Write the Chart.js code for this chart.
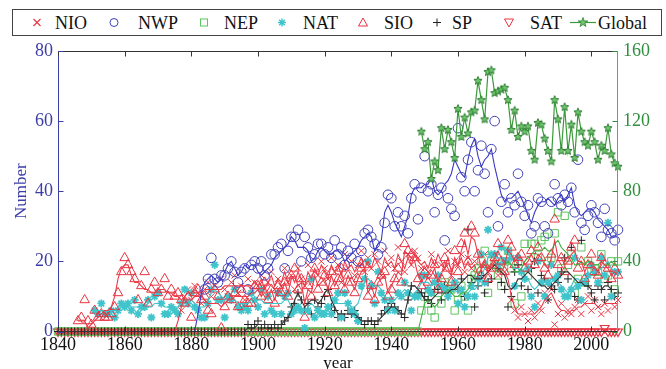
<!DOCTYPE html>
<html><head><meta charset="utf-8">
<script src="https://cdn.jsdelivr.net/npm/chart.js@4"></script>
<style>
html,body{margin:0;padding:0;background:#fff;overflow:hidden;}
#wrap{position:relative;width:666px;height:369px;overflow:hidden;}
canvas{position:absolute;left:0;top:0;}
#legend{position:absolute;left:12px;top:9px;width:650px;height:27px;border:1px solid #444;box-sizing:border-box;background:#fff;font-family:"Liberation Serif","Times New Roman",serif;font-size:18px;color:#111;}
.lt{position:absolute;top:3px;line-height:20px;white-space:nowrap;}
.lm{position:absolute;top:0;}
</style></head>
<body><div id="wrap"><canvas id="c" width="666" height="375"></canvas><div id="legend"></div></div>
<script>
// ---------- DATA (yearly counts) ----------
const X_TICKS = [1840,1860,1880,1900,1920,1940,1960,1980,2000];
const Y_TICKS = [0,20,40,60,80];
const Y2_TICKS = [0,40,80,120,160];

const NIO_START = 1840;
const NIO_MARK = [
0,0,0,0,0,0,0,0,0,0,
0,0,0,0,0,0,0,0,0,0,
0,0,0,0,0,0,0,0,0,0,
0,0,0,0,0,0,0,6,10,12,
9,13,11,8,12,14,10,13,9,15,
12,10,14,16,11,13,9,15,12,14,
13,16,11,14,17,12,15,13,18,14,
16,12,18,15,13,19,14,17,16,20,
18,15,21,17,19,14,22,18,20,16,
19,23,17,21,18,22,20,16,23,19,
21,18,24,20,17,22,19,23,21,18,
18,17,22,19,15,19,18,23,16,20,
19,22,17,21,18,20,15,19,22,17,
18,21,16,19,17,20,9,6,4,7,
5,3,6,4,8,6,11,9,12,2,
5,8,4,6,5,7,9,5,8,10,
6,9,7,5,8,6,10,7,9];
const NIO_LINE = [
0,0,0,0,0,0,0,0,0,0,
0,0,0,0,0,0,0,0,0,0,
0,0,0,0,0,0,0,0,0,0,
0,0,0,0,0,0,3,7,10,11,
11,11,11,11,12,12,12,12,12,12,
13,13,13,13,13,13,13,13,13,14,
13,15,12,14,16,13,15,14,17,14,
16,14,17,15,13,17,15,18,16,19,
17,15,19,17,19,16,20,18,19,17,
19,21,18,20,18,21,19,17,21,19,
20,18,22,20,18,21,19,22,20,19,
20,18,21,19,22,20,18,21,17,19,
19,21,18,20,18,19,16,18,20,18,
18,20,17,18,17,15,10,7,5,5,
5,5,5,5,6,7,9,10,11,9,
7,6,6,5,6,6,7,7,8,8,
8,8,7,7,8,8,8,8,8];

const NWP_MARK_START = 1884;
const NWP_MARK = [
12,15,21,15,14,16,
16,18,20,17,14,17,18,12,19,20,
18,20,16,18,22,22,24,25,18,23,
27,27,29,20,27,24,21,22,25,25,
22,24,21,26,22,24,19,23,21,25,
20,23,28,29,27,25,22,24,31,39,
38,30,34,30,33,28,38,42,32,41,
50,40,42,34,39,41,26,38,35,33,
58,44,40,49,54,40,46,53,45,34,
52,60,30,37,42,34,38,36,45,37,
33,36,28,30,38,37,30,28,37,42,
38,36,39,37,41,34,49,31,29,33,
36,34,31,27,35,29,28,26,29];
const NWP_LINE_START = 1840;
const NWP_LINE = [
0,0,0,0,0,0,0,0,0,0,
0,0,0,0,0,0,0,0,0,0,
0,0,0,0,0,0,0,0,0,0,
0,0,0,0,0,0,0,0,0,0,
0,0,5,11,14,15,16,15,14,15,
17,19,20,18,16,17,19,18,19,19,
17,16,17,18,19,21,22,23,24,25,
27,26,24,24,24,23,20,21,23,24,
23,22,22,23,23,22,20,21,22,23,
24,26,27,28,27,23,25,26,34,36,
34,31,29,27,30,33,39,41,41,41,
42,42,44,40,39,40,42,43,45,49,
47,45,44,49,53,55,50,47,49,50,
52,47,43,39,37,38,38,39,40,38,
36,33,31,34,36,37,37,38,37,36,
38,39,37,39,41,36,34,33,34,35,
35,34,32,31,30,29,27,27,27];

const NEP_START = 1840;
const NEP_MARK = [
0,0,0,0,0,0,0,0,0,0,
0,0,0,0,0,0,0,0,0,0,
0,0,0,0,0,0,0,0,0,0,
0,0,0,0,0,0,0,0,0,0,
0,0,0,0,0,0,0,0,0,0,
0,0,0,0,0,0,0,0,0,0,
0,0,0,0,0,0,0,0,0,0,
0,0,0,0,0,0,0,0,0,0,
0,0,0,0,0,0,0,0,0,0,
0,0,0,0,0,0,0,0,0,0,
0,0,0,0,0,0,0,0,0,6,
10,8,6,4,11,8,14,13,12,6,
9,13,10,6,15,16,18,20,23,11,
20,19,16,13,20,23,18,8,20,10,
25,16,25,25,21,26,27,20,21,28,
34,18,33,19,22,11,15,24,14,20,
17,18,17,22,15,16,20,12,20];
const NEP_LINE = [
0,0,0,0,0,0,0,0,0,0,
0,0,0,0,0,0,0,0,0,0,
0,0,0,0,0,0,0,0,0,0,
0,0,0,0,0,0,0,0,0,0,
0,0,0,0,0,0,0,0,0,0,
0,0,0,0,0,0,0,0,0,0,
0,0,0,0,0,0,0,0,0,0,
0,0,0,0,0,0,0,0,0,0,
0,0,0,0,0,0,0,0,0,0,
0,0,0,0,0,0,0,0,0,0,
0,0,0,0,0,0,0,0,0,4,
8,9,8,7,8,10,11,12,11,10,
10,11,11,12,14,16,18,19,19,18,
18,18,17,17,19,20,19,17,17,18,
20,21,22,23,23,23,24,23,23,25,
26,24,23,22,21,19,19,20,19,20,
20,19,19,20,19,19,20,19,19];

const NAT_START = 1851;
const NAT_MARK = [
6,5,8,5,5,6,4,6,8,
7,8,6,9,5,7,7,9,4,10,
11,8,5,5,7,6,5,8,12,8,
11,7,6,4,4,8,12,19,9,9,
4,10,9,12,7,6,7,6,11,9,
7,12,5,10,6,5,11,5,10,11,
5,6,7,6,1,6,15,4,6,5,
5,7,5,9,11,4,11,8,6,5,
3,13,15,20,13,8,17,11,9,6,
9,6,11,10,14,11,6,10,10,16,
16,12,11,14,16,13,12,10,12,14,
8,12,7,10,13,10,15,22,14,29,
22,22,19,24,20,23,21,13,21,17,
15,18,10,7,20,14,10,14,19,15,
16,12,10,10,12,21,13,9,14,16,
19,17,14,21,16,31,10,17,17];
const NAT_LINE = [
5,6,6,6,6,6,6,7,7,
7,7,7,7,7,7,7,7,7,8,
8,8,7,7,7,7,7,8,9,9,
9,8,7,7,7,9,11,12,11,10,
9,9,9,9,8,8,8,8,9,9,
9,9,8,8,8,8,8,8,9,9,
7,6,6,5,5,7,8,7,6,6,
6,6,7,8,8,8,8,8,7,7,
8,11,14,15,14,13,13,12,10,9,
9,9,10,11,12,11,10,11,12,14,
14,14,13,14,14,13,12,12,12,12,
11,11,10,11,12,12,13,16,18,21,
22,21,21,21,21,21,19,18,18,17,
16,15,13,12,13,14,14,14,15,15,
14,13,12,11,13,15,15,14,14,16,
17,17,17,18,19,20,18,17,17];

const SIO_START = 1846;
const SIO_MARK = [
3,4,9,3,
2,6,4,5,4,4,5,7,11,17,
21,19,17,15,9,13,17,8,12,14,
11,12,15,10,12,10,11,9,8,10,
4,11,12,9,10,6,5,12,10,1,
7,10,9,11,7,12,9,8,8,13,
13,10,14,9,12,8,13,11,14,10,
16,18,12,15,4,13,10,18,12,14,
16,11,17,13,15,18,12,16,14,11,
15,18,19,10,13,9,14,16,17,10,
12,15,18,14,25,23,22,21,15,13,
17,14,16,19,12,15,21,18,14,23,
17,25,28,20,30,28,22,16,19,15,
18,21,25,20,17,26,24,19,21,22,
18,20,23,19,24,21,18,16,22,32,
19,21,17,20,24,26,18,20,15,19,
22,17,16,21,19,18,15,18,16];
const SIO_LINE = [
3,3,3,1,
2,3,4,5,6,6,7,10,15,18,
19,19,16,14,14,13,12,12,11,11,
12,12,12,11,11,10,10,9,9,9,
9,10,10,10,9,8,8,8,8,7,
8,9,9,10,10,10,10,10,11,11,
12,10,13,10,12,9,12,11,14,11,
15,16,13,14,8,12,11,16,13,14,
15,12,16,13,15,17,13,16,14,12,
15,17,18,11,13,10,14,15,16,11,
13,15,17,16,23,22,21,20,16,14,
16,15,16,18,14,16,20,18,16,21,
19,23,26,22,27,26,22,18,19,17,
19,21,23,21,19,23,22,20,21,21,
19,20,22,20,22,21,19,18,21,26,
21,21,19,20,22,23,20,20,17,19,
20,18,17,20,19,18,16,17,16];

const SP_START = 1840;
const SP_MARK = [
0,0,0,0,0,0,0,0,0,0,
0,0,0,0,0,0,0,0,0,0,
0,0,0,0,0,0,0,0,0,0,
0,0,0,0,0,0,0,0,0,0,
0,0,0,0,0,0,0,0,0,0,
0,0,0,0,0,0,0,2,1,2,
3,1,2,1,1,2,1,2,3,4,
7,8,11,9,6,8,5,9,7,8,
10,12,7,6,4,5,4,6,5,6,
4,3,2,3,3,2,3,5,6,7,
8,7,6,5,4,9,13,10,11,11,
10,9,8,12,12,9,13,10,12,14,
12,15,10,29,14,7,13,16,11,14,
15,22,18,14,12,7,10,17,19,13,
15,12,18,20,11,16,15,9,13,12,
14,17,21,15,24,10,9,26,14,13,
11,9,13,12,9,14,12,10,11];
const SP_LINE = [
0,0,0,0,0,0,0,0,0,0,
0,0,0,0,0,0,0,0,0,0,
0,0,0,0,0,0,0,0,0,0,
0,0,0,0,0,0,0,0,0,0,
0,0,0,0,0,0,0,0,0,0,
0,0,0,0,0,0,0,1,1,1,
2,2,2,2,2,2,2,2,3,4,
6,9,11,9,7,8,9,9,8,9,
11,12,9,7,5,5,5,5,5,5,
4,3,3,3,3,3,3,4,5,6,
7,7,6,5,5,9,13,13,12,11,
9,9,9,10,11,11,11,11,12,12,
13,14,15,16,16,15,15,15,16,17,
18,19,18,17,16,13,12,13,15,15,
16,17,16,15,14,13,13,12,13,14,
15,16,17,17,16,15,14,14,13,13,
12,12,12,12,13,13,12,12,12];

const SAT_START = 1840;
const SAT_MARK = [
0,0,0,0,0,0,0,0,0,0,
0,0,0,0,0,0,0,0,0,0,
0,0,0,0,0,0,0,0,0,0,
0,0,0,0,0,0,0,0,0,0,
0,0,0,0,0,0,0,0,0,0,
0,0,0,0,0,0,0,0,0,0,
0,0,0,0,0,0,0,0,0,0,
0,0,0,0,0,0,0,0,0,0,
0,0,0,0,0,0,0,0,0,0,
0,0,0,0,0,0,0,0,0,0,
0,0,0,0,0,0,0,0,0,0,
0,0,0,0,0,0,0,0,0,0,
0,0,0,0,0,0,0,0,0,0,
0,0,0,0,0,0,0,0,0,0,
0,0,0,0,0,0,0,0,0,0,
0,0,0,0,0,0,0,0,0,0,
0,0,0,0,1,0,0,0,0];

const GLOBAL_START = 1949;
const GLOBAL = [
114,
104,108,87,97,92,116,104,115,108,99,
127,111,122,113,125,126,143,132,121,148,
149,136,137,138,139,132,115,126,111,117,
114,117,103,98,119,118,110,103,97,132,
121,103,128,103,118,99,125,114,108,106,
114,108,98,106,103,116,101,96,94];

// ---------- STYLE ----------
const FONT = '"Liberation Serif","Times New Roman",serif';
const RED = '#e63340', RED_LINE = '#ec3a48';
const BLUE = '#4040b8', BLUE_AX = '#3d3da8';
const NEPG = '#5ec45e', NEPG_LINE = '#44b044';
const CYAN = '#3fc4cb';
const BLACK = '#1e1e1e';
const GLG = '#3c9a3c', GL_AX = '#2f8f3f';

function pts(start, arr){ return arr.map((v,i)=>({x:start+i, y:v})); }

function makeStar(r, fill, stroke){
  const s = Math.ceil(r*2+3); const c = document.createElement('canvas'); c.width=c.height=s;
  const g=c.getContext('2d'); g.translate(s/2,s/2); g.beginPath();
  for(let i=0;i<10;i++){ const a=-Math.PI/2+i*Math.PI/5; const rr=(i%2)?r*0.45:r; g.lineTo(rr*Math.cos(a),rr*Math.sin(a)); }
  g.closePath(); g.fillStyle=fill; g.fill(); g.strokeStyle=stroke; g.lineWidth=1; g.stroke(); return c;
}
const starImg = makeStar(4.3, '#6cc46c', '#2e7d32');

function markers(label, data, style, color, r, order, extra){
  return Object.assign({label, data, showLine:false, pointStyle:style, pointRadius:r, pointHoverRadius:r,
    pointBorderColor:color, pointBackgroundColor:'rgba(0,0,0,0)', pointBorderWidth:1, borderColor:color,
    clip:false, yAxisID:'y', order}, extra||{});
}
function line(label, data, color, order){
  return {label, data, showLine:true, pointRadius:0, borderColor:color, borderWidth:1.1, tension:0,
    yAxisID:'y', order, clip:false};
}

const datasets = [
  markers('SAT', pts(SAT_START, SAT_MARK), 'triangle', RED, 5, 30, {pointRotation:180, pointBorderWidth:1.2}),
  markers('NEP', pts(NEP_START, NEP_MARK), 'rect', NEPG, 5.2, 29),
  markers('NIO', pts(NIO_START, NIO_MARK), 'crossRot', RED, 4.5, 28),
  markers('SP',  pts(SP_START, SP_MARK), 'cross', BLACK, 4, 27),
  markers('NAT', pts(NAT_START, NAT_MARK), 'star', CYAN, 4, 26, {pointBorderWidth:1.8}),
  markers('SIO', pts(SIO_START, SIO_MARK), 'triangle', RED, 5.5, 25),
  markers('NWP', pts(NWP_MARK_START, NWP_MARK), 'circle', BLUE, 4.8, 24),
  line('NAT line', pts(NAT_START, NAT_LINE), CYAN, 14),
  line('NEP line', pts(NEP_START, NEP_LINE), NEPG_LINE, 13),
  line('SP line', pts(SP_START, SP_LINE), '#333333', 12),
  line('NIO line', pts(NIO_START, NIO_LINE), RED_LINE, 11),
  line('SIO line', pts(SIO_START, SIO_LINE), RED_LINE, 10),
  line('NWP line', pts(NWP_LINE_START, NWP_LINE), '#3a3ac4', 9),
  {label:'Global', data:pts(GLOBAL_START, GLOBAL), yAxisID:'y2', showLine:true, borderColor:GLG, borderWidth:1.2,
   pointStyle:starImg, pointRadius:5, tension:0, order:0, clip:false}
];

const framePlugin = {
  id:'frame',
  afterDatasetsDraw(chart){
    const {ctx, chartArea:{left,right,top,bottom}, scales} = chart;
    const L=Math.round(left)+0.5, R=Math.round(right)-0.5, T=Math.round(top)+0.5, B=Math.round(bottom)-0.5;
    ctx.save(); ctx.lineWidth=1;
    const seg=(x1,y1,x2,y2,c)=>{ctx.strokeStyle=c;ctx.beginPath();ctx.moveTo(x1,y1);ctx.lineTo(x2,y2);ctx.stroke();};
    seg(L,T,R,T,'#333'); seg(L,B,R,B,'#333');
    seg(L,T,L,B,BLUE_AX); seg(R,T,R,B,'#6f9a86');
    X_TICKS.forEach(v=>{const x=Math.round(scales.x.getPixelForValue(v))+0.5; seg(x,T,x,T+5,'#333'); seg(x,B,x,B-5,'#333');});
    Y_TICKS.forEach(v=>{const y=Math.round(scales.y.getPixelForValue(v))+0.5; seg(L,y,L+5,y,BLUE_AX);});
    Y2_TICKS.forEach(v=>{const y=Math.round(scales.y2.getPixelForValue(v))+0.5; seg(R,y,R-5,y,GL_AX);});
    ctx.restore();
  }
};

const TICK_FONT = {family:FONT, size:18};
Chart.defaults.font.family = FONT;
new Chart(document.getElementById('c'), {
  type:'line',
  data:{datasets},
  options:{
    responsive:false, animation:false, events:[],
    layout:{padding:{top:51,left:0,right:0,bottom:0}},
    plugins:{legend:{display:false}, tooltip:{enabled:false}},
    scales:{
      x:{type:'linear', position:'bottom', min:1840, max:2008,
        afterBuildTicks:s=>{s.ticks=X_TICKS.map(v=>({value:v}));},
        afterFit:s=>{s.height=43.5;},
        grid:{display:false, drawTicks:false}, border:{display:false},
        ticks:{color:'#111', font:TICK_FONT, padding:3, maxRotation:0, autoSkip:false, callback:v=>String(v)},
        title:{display:true, text:'year', color:'#111', font:{family:FONT,size:17}, padding:{top:0,bottom:1}}
      },
      y:{type:'linear', position:'left', min:0, max:80,
        afterBuildTicks:s=>{s.ticks=Y_TICKS.map(v=>({value:v}));},
        afterFit:s=>{s.width=58;},
        grid:{display:false, drawTicks:false}, border:{display:false},
        ticks:{color:BLUE_AX, font:TICK_FONT, padding:5, callback:v=>String(v)},
        title:{display:true, text:'Number', color:BLUE_AX, font:{family:FONT,size:17}, padding:{top:11.5,bottom:0}}
      },
      y2:{type:'linear', position:'right', min:0, max:160,
        afterBuildTicks:s=>{s.ticks=Y2_TICKS.map(v=>({value:v}));},
        afterFit:s=>{s.width=48;},
        grid:{display:false, drawTicks:false, drawOnChartArea:false}, border:{display:false},
        ticks:{color:GL_AX, font:TICK_FONT, padding:5, callback:v=>String(v)}
      }
    }
  },
  plugins:[framePlugin]
});

// ---------- LEGEND (HTML text) ----------
const LEG = [
  {t:'NIO', m:37, x:55, svg:`<path d="M-3.5,-3.5L3.5,3.5M3.5,-3.5L-3.5,3.5" stroke="${RED}" stroke-width="1.1" fill="none"/>`},
  {t:'NWP', m:114, x:138, svg:`<circle r="4" stroke="${BLUE}" stroke-width="1" fill="none"/>`},
  {t:'NEP', m:204, x:224, svg:`<rect x="-3.5" y="-3.5" width="7" height="7" stroke="${NEPG}" stroke-width="1" fill="none"/>`},
  {t:'NAT', m:282, x:303, svg:`<path d="M-4,0L4,0M0,-4L0,4M-2.8,-2.8L2.8,2.8M2.8,-2.8L-2.8,2.8" stroke="${CYAN}" stroke-width="1.4" fill="none"/>`},
  {t:'SIO', m:363, x:384, svg:`<path d="M0,-4.5L4.5,3.5L-4.5,3.5Z" stroke="${RED}" stroke-width="1" fill="none"/>`},
  {t:'SP', m:437, x:452, svg:`<path d="M-4,0L4,0M0,-4L0,4" stroke="${BLACK}" stroke-width="1" fill="none"/>`},
  {t:'SAT', m:509, x:530, svg:`<path d="M0,4.5L4.5,-3.5L-4.5,-3.5Z" stroke="${RED}" stroke-width="1" fill="none"/>`},
  {t:'Global', m:583, x:598, svg:`<path d="M-13,0L13,0" stroke="${GLG}" stroke-width="1.2"/><path d="M0,-5L1.2,-1.6L4.8,-1.6L1.9,0.6L2.9,4L0,2L-2.9,4L-1.9,0.6L-4.8,-1.6L-1.2,-1.6Z" fill="#6cc46c" stroke="#2e7d32" stroke-width="0.8"/>`}
];
const legEl = document.getElementById('legend');
const OX = 13, CY = 13;
LEG.forEach(it=>{
  const w = 30, h = 25;
  const s = document.createElementNS('http://www.w3.org/2000/svg','svg');
  s.setAttribute('width',w); s.setAttribute('height',h);
  s.setAttribute('viewBox',`${-w/2} ${-h/2} ${w} ${h}`);
  s.innerHTML = it.svg;
  s.setAttribute('class','lm');
  s.style.left = (it.m - OX - w/2) + 'px';
  s.style.top = (CY - h/2 - 0.5) + 'px';
  legEl.appendChild(s);
  const d = document.createElement('div'); d.className='lt'; d.textContent = it.t;
  d.style.left = (it.x - OX) + 'px';
  legEl.appendChild(d);
});
</script>
</body></html>
